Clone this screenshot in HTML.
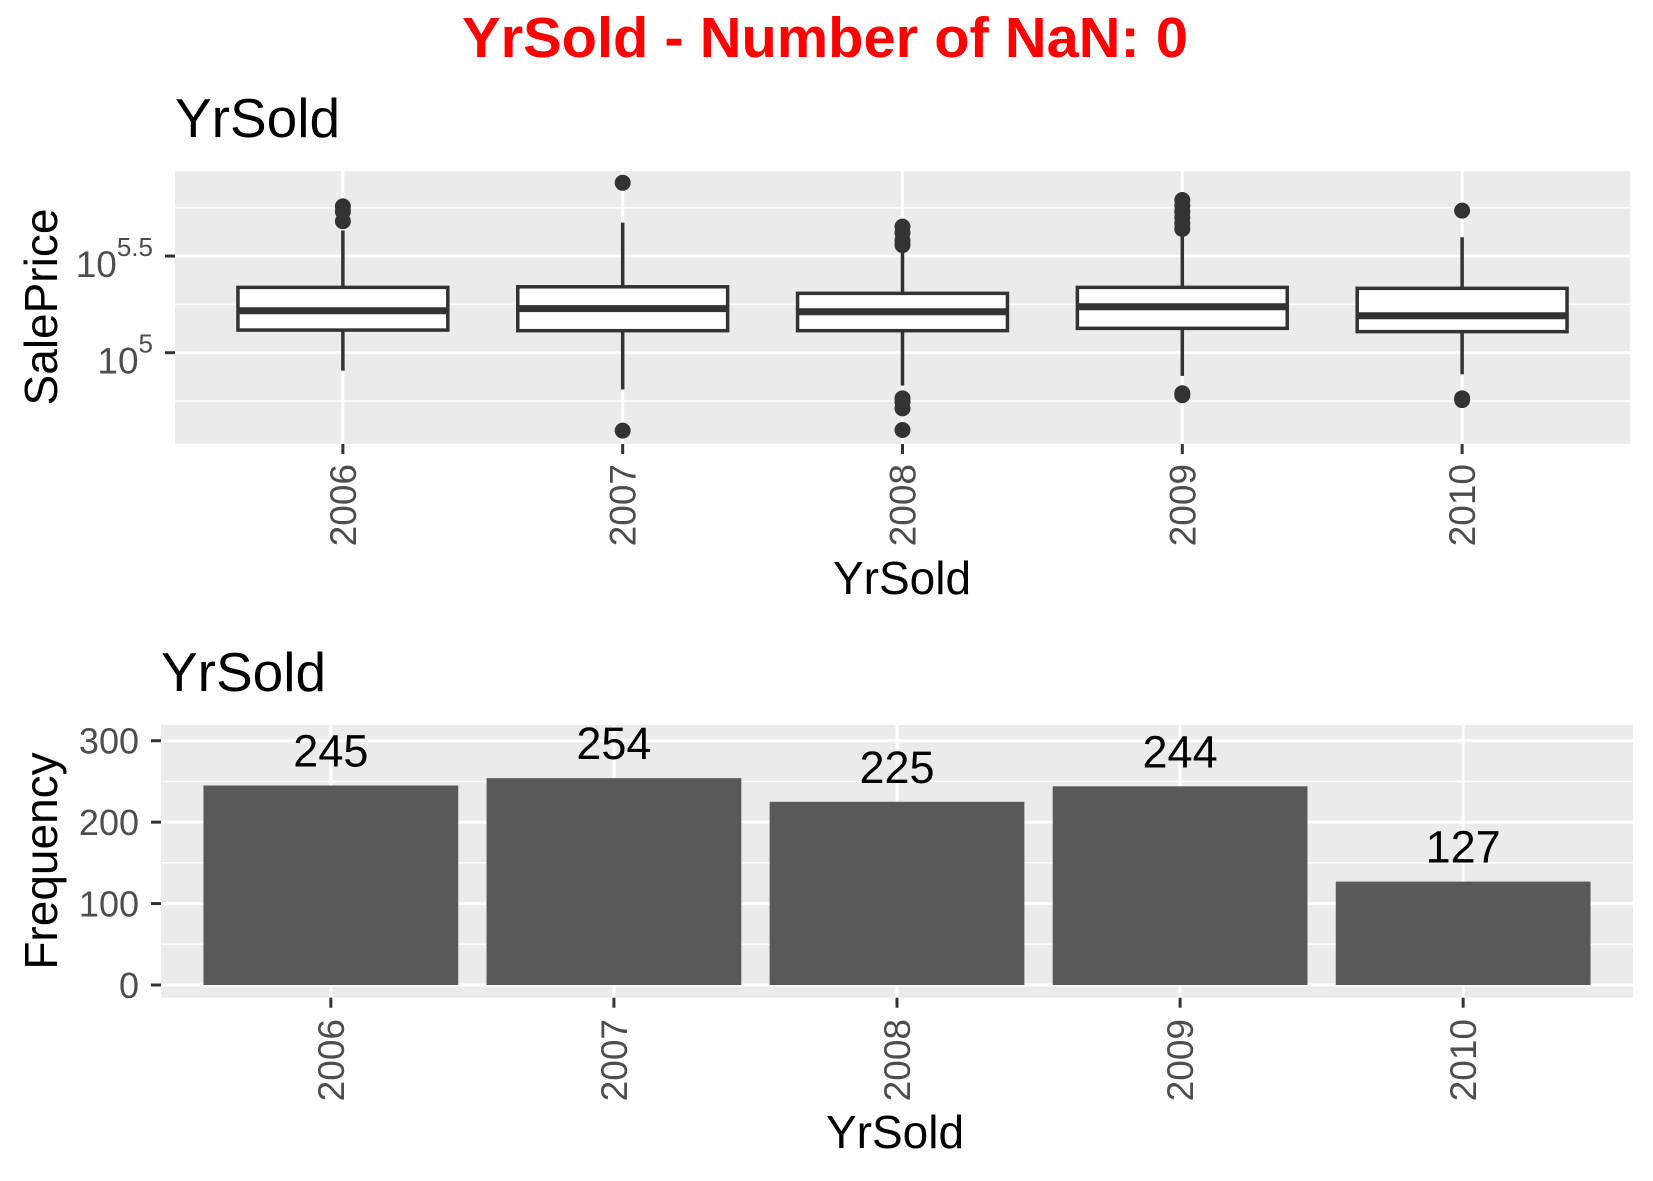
<!DOCTYPE html>
<html><head><meta charset="utf-8"><style>
html,body{margin:0;padding:0;background:#fff;}
svg{display:block;font-family:"Liberation Sans",Arial,sans-serif;}
</style></head><body>
<svg id="chart" width="1653" height="1181" viewBox="0 0 1653 1181" xmlns="http://www.w3.org/2000/svg">
<text x="825" y="57" text-anchor="middle" font-size="57" font-weight="bold" fill="#ff0000" textLength="726" lengthAdjust="spacingAndGlyphs">YrSold - Number of NaN: 0</text>
<text x="175" y="137" font-size="55" fill="#000">YrSold</text>
<text x="161" y="691" font-size="55" fill="#000">YrSold</text>
<g id="box"></g>
<g id="bar"></g>
</svg>
<script>
const years = ["2006","2007","2008","2009","2010"];
const boxQ1 = [5.117, 5.114, 5.114, 5.126, 5.109];
const boxMedian = [5.217, 5.228, 5.212, 5.238, 5.191];
const boxQ3 = [5.338, 5.341, 5.307, 5.338, 5.333];
const whiskerLow = [4.907, 4.81, 4.83, 4.88, 4.888];
const whiskerHigh = [5.632, 5.673, 5.535, 5.609, 5.597];
const outliers = [[5.757, 5.73, 5.68], [5.879, 4.597], [5.652, 5.62, 5.58, 5.557, 4.764, 4.745, 4.712, 4.6], [5.79, 5.76, 5.73, 5.70, 5.67, 5.64, 4.79, 4.78], [5.735, 4.764, 4.755]];
const logTicks = [5, 5.5];
const logMinor = [4.75, 5.25, 5.75];
const freq = [245, 254, 225, 244, 127];
const freqTicks = [0, 100, 200, 300];
const freqMinor = [50, 150, 250];

const NS = "http://www.w3.org/2000/svg";
function mk(parent, tag, attrs, text) {
  const e = document.createElementNS(NS, tag);
  for (const k in attrs) e.setAttribute(k, attrs[k]);
  if (text !== undefined) e.textContent = text;
  parent.appendChild(e);
  return e;
}

// ---------- Box plot ----------
const bp = {l: 175, r: 1630, t: 171, b: 444};
const bx = i => bp.l + (i + 0.6) * (bp.r - bp.l) / (years.length + 0.2);
const bstep = (bp.r - bp.l) / (years.length + 0.2);
const by = v => 352.7 - (v - 5) * 193.3;
const gBox = document.getElementById("box");
let e = mk(gBox, "rect", {x: bp.l, y: bp.t, width: bp.r - bp.l, height: bp.b - bp.t, fill: "#ebebeb"});


logMinor.forEach(v => {
  const g = mk(gBox, "line", {x1: bp.l, x2: bp.r, y1: by(v), y2: by(v), stroke: "#fff", "stroke-width": 1.6});
  
  
});
logTicks.forEach(v => {
  const g = mk(gBox, "line", {x1: bp.l, x2: bp.r, y1: by(v), y2: by(v), stroke: "#fff", "stroke-width": 3});
  
  
  const t = mk(gBox, "line", {x1: bp.l - 10, x2: bp.l, y1: by(v), y2: by(v), stroke: "#333", "stroke-width": 3});
  
  
  const lab = mk(gBox, "text", {x: 153, y: by(v) + 21, "text-anchor": "end", "font-size": 37, fill: "#4d4d4d"});
  
  
  mk(lab, "tspan", {}, "10");
  mk(lab, "tspan", {"font-size": 26, dy: -21}, String(v));
});
years.forEach((y, i) => {
  const x = bx(i);
  const g = mk(gBox, "line", {x1: x, x2: x, y1: bp.t, y2: bp.b, stroke: "#fff", "stroke-width": 3});
  
  
  const t = mk(gBox, "line", {x1: x, x2: x, y1: bp.b, y2: bp.b + 10, stroke: "#333", "stroke-width": 3});
  
  
  const lab = mk(gBox, "text", {x: 0, y: 0, "text-anchor": "end", "font-size": 37, fill: "#4d4d4d", transform: `translate(${x + 13},464) rotate(-90)`}, y);
  
  
});
years.forEach((y, i) => {
  const x = bx(i), hw = bstep * 0.375;
  const w1 = mk(gBox, "line", {x1: x, x2: x, y1: by(whiskerHigh[i]), y2: by(boxQ3[i]), stroke: "#333", "stroke-width": 3.5});
  
  
  const w2 = mk(gBox, "line", {x1: x, x2: x, y1: by(boxQ1[i]), y2: by(whiskerLow[i]), stroke: "#333", "stroke-width": 3.5});
  
  
  const r = mk(gBox, "rect", {x: x - hw, y: by(boxQ3[i]), width: 2 * hw, height: by(boxQ1[i]) - by(boxQ3[i]), fill: "#fff", stroke: "#333", "stroke-width": 3.5});
  
  
  const m = mk(gBox, "line", {x1: x - hw, x2: x + hw, y1: by(boxMedian[i]), y2: by(boxMedian[i]), stroke: "#333", "stroke-width": 7});
  
  
  outliers[i].forEach(v => {
    const c = mk(gBox, "circle", {cx: x, cy: by(v), r: 8, fill: "#333"});
    
    
  });
});
e = mk(gBox, "text", {x: 0, y: 0, "text-anchor": "middle", "font-size": 46, fill: "#000", transform: "translate(57,307) rotate(-90)"}, "SalePrice");


e = mk(gBox, "text", {x: 902, y: 594, "text-anchor": "middle", "font-size": 46, fill: "#000"}, "YrSold");



// ---------- Bar chart ----------
const cp = {l: 161, r: 1633, t: 725, b: 997.7};
const cstep = (cp.r - cp.l) / (years.length + 0.2);
const cx = i => cp.l + (i + 0.6) * cstep;
const cy = v => 985 - v * 0.8143;
const gBar = document.getElementById("bar");
e = mk(gBar, "rect", {x: cp.l, y: cp.t, width: cp.r - cp.l, height: cp.b - cp.t, fill: "#ebebeb"});


freqMinor.forEach(v => {
  const g = mk(gBar, "line", {x1: cp.l, x2: cp.r, y1: cy(v), y2: cy(v), stroke: "#fff", "stroke-width": 1.6});
  
  
});
freqTicks.forEach(v => {
  const g = mk(gBar, "line", {x1: cp.l, x2: cp.r, y1: cy(v), y2: cy(v), stroke: "#fff", "stroke-width": 3});
  
  
  const t = mk(gBar, "line", {x1: cp.l - 10, x2: cp.l, y1: cy(v), y2: cy(v), stroke: "#333", "stroke-width": 3});
  
  
  const lab = mk(gBar, "text", {x: 139, y: cy(v) + 13, "text-anchor": "end", "font-size": 36, fill: "#4d4d4d"}, String(v));
  
  
});
years.forEach((y, i) => {
  const x = cx(i);
  const g = mk(gBar, "line", {x1: x, x2: x, y1: cp.t, y2: cp.b, stroke: "#fff", "stroke-width": 3});
  
  
});
years.forEach((y, i) => {
  const x = cx(i), hw = cstep * 0.45;
  const r = mk(gBar, "rect", {x: x - hw, y: cy(freq[i]), width: 2 * hw, height: cy(0) - cy(freq[i]), fill: "#595959"});
  
  
  const lab = mk(gBar, "text", {x: x, y: cy(freq[i]) - 19, "text-anchor": "middle", "font-size": 45, fill: "#000"}, String(freq[i]));
  
  
  const t = mk(gBar, "line", {x1: x, x2: x, y1: cp.b, y2: cp.b + 10, stroke: "#333", "stroke-width": 3});
  
  
  const xl = mk(gBar, "text", {x: 0, y: 0, "text-anchor": "end", "font-size": 37, fill: "#4d4d4d", transform: `translate(${x + 13},1019) rotate(-90)`}, y);
  
  
});
e = mk(gBar, "text", {x: 0, y: 0, "text-anchor": "middle", "font-size": 46, fill: "#000", transform: "translate(57,861) rotate(-90)"}, "Frequency");


e = mk(gBar, "text", {x: 895, y: 1148, "text-anchor": "middle", "font-size": 46, fill: "#000"}, "YrSold");


</script>
</body></html>
